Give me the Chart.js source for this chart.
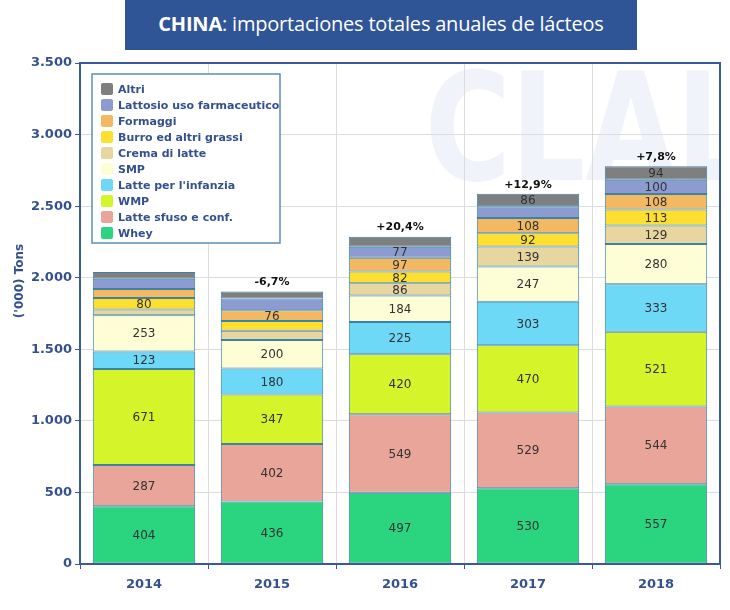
<!DOCTYPE html>
<html>
<head>
<meta charset="utf-8">
<script src="https://cdn.jsdelivr.net/npm/chart.js@4.4.1/dist/chart.umd.min.js"></script>
<style>
  html, body { margin: 0; padding: 0; background: #ffffff; }
  #wrap { position: relative; width: 730px; height: 610px; }
  #title {
    position: absolute; left: 125px; top: 0; width: 512px; height: 50px;
    background: #2f5597; color: #fff; font-family: "Open Sans", sans-serif;
    font-size: 20px; line-height: 48px; text-align: center; white-space: nowrap;
    letter-spacing: -0.2px;
  }
  #title b { font-weight: 700; }
  canvas { position: absolute; left: 0; top: 0; }
</style>
</head>
<body>
<div id="wrap">
  <canvas id="chart" width="730" height="610"></canvas>
  <div id="title"><b>CHINA</b>: importaciones totales anuales de lácteos</div>
</div>
<script>
"use strict";

var years = ['2014', '2015', '2016', '2017', '2018'];
var growth = [null, '-6,7%', '+20,4%', '+12,9%', '+7,8%'];
var yTicks = [0, 500, 1000, 1500, 2000, 2500, 3000, 3500];

// series bottom -> top
var whey       = [404, 436, 497, 530, 557];
var latteSfuso = [287, 402, 549, 529, 544];
var wmp        = [671, 347, 420, 470, 521];
var infanzia   = [123, 180, 225, 303, 333];
var smp        = [253, 200, 184, 247, 280];
var crema      = [40, 65, 86, 139, 129];
var burro      = [80, 67, 82, 92, 113];
var formaggi   = [64, 76, 97, 108, 108];
var lattosio   = [70, 82, 77, 82, 100];
var altri      = [48, 48, 70, 86, 94];

// segments printed without a number in the reference
var unlabeled = [
  ['Crema di latte', 'Formaggi', 'Lattosio uso farmaceutico', 'Altri'],
  ['Crema di latte', 'Burro ed altri grassi', 'Lattosio uso farmaceutico', 'Altri'],
  ['Altri'],
  ['Lattosio uso farmaceutico'],
  []
];

var blue = '#34508f';
var frame = '#3a5a9c';

function ds(label, data, color){
  return {
    label: label,
    data: data,
    backgroundColor: color,
    borderColor: '#3a82a6',
    borderWidth: 1,
    borderSkipped: false,
    categoryPercentage: 0.8,
    barPercentage: 1
  };
}

function fmt(v){
  return String(v).replace(/\B(?=(\d{3})+(?!\d))/g, '.');
}

var extras = {
  id: 'extras',
  beforeDraw: function(chart){
    var ctx = chart.ctx, a = chart.chartArea;
    ctx.save();
    ctx.beginPath();
    ctx.rect(a.left, a.top, a.right - a.left, a.bottom - a.top);
    ctx.clip();
    ctx.fillStyle = '#f1f3fa';
    ctx.font = 'bold 150px "DejaVu Sans"';
    ctx.textBaseline = 'alphabetic';
    ctx.translate(425, 180);
    ctx.scale(0.78, 1);
    ctx.fillText('CLAL', 0, 0);
    ctx.restore();
  },
  afterDatasetsDraw: function(chart){
    var ctx = chart.ctx;
    ctx.save();
    ctx.textAlign = 'center';
    ctx.textBaseline = 'middle';
    ctx.font = '12px "DejaVu Sans"';
    ctx.fillStyle = '#333333';
    chart.data.datasets.forEach(function(d, i){
      var meta = chart.getDatasetMeta(i);
      meta.data.forEach(function(bar, j){
        if(unlabeled[j].indexOf(d.label) >= 0) return;
        ctx.fillText(String(d.data[j]), bar.x, (bar.y + bar.base) / 2 + 1);
      });
    });
    // growth labels above the stacks
    var top = chart.getDatasetMeta(chart.data.datasets.length - 1);
    ctx.font = 'bold 11px "DejaVu Sans"';
    ctx.fillStyle = '#111111';
    top.data.forEach(function(bar, j){
      if(growth[j]) ctx.fillText(growth[j], bar.x, bar.y - 9);
    });
    ctx.restore();
  },
  afterDraw: function(chart){
    var ctx = chart.ctx, a = chart.chartArea;
    ctx.save();
    // frame
    ctx.strokeStyle = frame;
    ctx.lineWidth = 2;
    ctx.strokeRect(a.left, a.top, a.right - a.left, a.bottom - a.top);

    // legend box
    var lx = 92, ly = 74, lw = 188, lh = 169;
    ctx.fillStyle = '#ffffff';
    ctx.fillRect(lx, ly, lw, lh);
    ctx.strokeStyle = '#5a8db5';
    ctx.lineWidth = 1.5;
    ctx.strokeRect(lx, ly, lw, lh);
    ctx.font = 'bold 11px "DejaVu Sans"';
    ctx.textBaseline = 'middle';
    ctx.textAlign = 'left';
    var list = chart.data.datasets.slice().reverse();
    list.forEach(function(d, k){
      var cy = 89 + k * 16;
      ctx.fillStyle = d.backgroundColor;
      ctx.beginPath();
      ctx.roundRect(101, cy - 6, 12, 12, 2);
      ctx.fill();
      ctx.fillStyle = blue;
      ctx.fillText(d.label, 118, cy + 1);
    });

    // y axis title
    ctx.translate(20, 281);
    ctx.rotate(-Math.PI / 2);
    ctx.textAlign = 'center';
    ctx.font = 'bold 12px "DejaVu Sans"';
    ctx.fillStyle = blue;
    ctx.fillText("('000) Tons", 0, 0);
    ctx.restore();
  }
};

new Chart(document.getElementById('chart'), {
  type: 'bar',
  data: {
    labels: years,
    datasets: [
      ds('Whey', whey, '#2bd47f'),
      ds('Latte sfuso e conf.', latteSfuso, '#e9a59a'),
      ds('WMP', wmp, '#d5f52a'),
      ds("Latte per l'infanzia", infanzia, '#6dd9f7'),
      ds('SMP', smp, '#fefed6'),
      ds('Crema di latte', crema, '#e8d6a0'),
      ds('Burro ed altri grassi', burro, '#fddf2f'),
      ds('Formaggi', formaggi, '#f2b962'),
      ds('Lattosio uso farmaceutico', lattosio, '#8c9bd0'),
      ds('Altri', altri, '#7f7f7f')
    ]
  },
  options: {
    responsive: false,
    animation: false,
    layout: { padding: { left: 0, right: 10, top: 63, bottom: 8 } },
    plugins: {
      legend: { display: false },
      tooltip: { enabled: false }
    },
    scales: {
      x: {
        stacked: true,
        afterFit: function(s){ s.height = 38; },
        grid: { color: '#dcdcdc', tickColor: frame, tickLength: 5, offset: true },
        border: { color: frame, width: 2 },
        ticks: { color: blue, font: { family: 'DejaVu Sans', size: 13, weight: 'bold' }, padding: 8 }
      },
      y: {
        stacked: true,
        min: 0,
        max: 3500,
        afterFit: function(s){ s.width = 80; },
        afterBuildTicks: function(s){ s.ticks = yTicks.map(function(v){ return { value: v }; }); },
        grid: { color: '#dcdcdc', tickColor: frame, tickLength: 5 },
        border: { color: frame, width: 2 },
        ticks: {
          color: blue,
          font: { family: 'DejaVu Sans', size: 13, weight: 'bold' },
          padding: 3,
          callback: function(v){ return fmt(v); }
        }
      }
    }
  },
  plugins: [extras]
});
</script>
</body>
</html>
